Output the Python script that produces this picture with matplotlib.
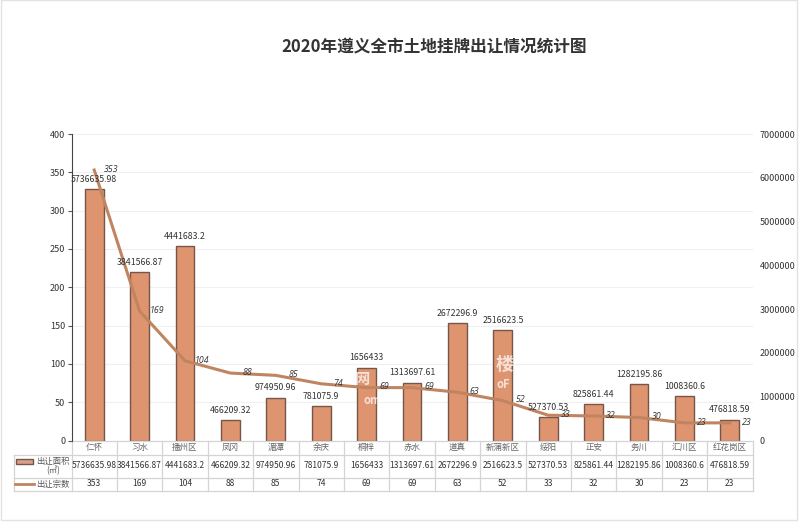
import matplotlib
matplotlib.use("Agg")
import matplotlib.pyplot as plt
from matplotlib.patches import Rectangle
from matplotlib.lines import Line2D

plt.rcParams['font.family'] = ['Noto Sans CJK SC', 'DejaVu Sans']

title = "2020年遵义全市土地挂牌出让情况统计图"
categories = ["仁怀", "习水", "播州区", "凤冈", "湄潭", "余庆", "桐梓", "赤水", "道真",
              "新蒲新区", "绥阳", "正安", "务川", "汇川区", "红花岗区"]
area_labels = ["5736635.98", "3841566.87", "4441683.2", "466209.32", "974950.96", "781075.9",
               "1656433", "1313697.61", "2672296.9", "2516623.5", "527370.53", "825861.44",
               "1282195.86", "1008360.6", "476818.59"]
area = [float(v) for v in area_labels]
deals = [353, 169, 104, 88, 85, 74, 69, 69, 63, 52, 33, 32, 30, 23, 23]
area_name = "出让面积\n(㎡)"
deals_name = "出让宗数"
left_ticks = [0, 50, 100, 150, 200, 250, 300, 350, 400]
right_ticks = [0, 1000000, 2000000, 3000000, 4000000, 5000000, 6000000, 7000000]
watermarks = [("楼", 505, 364, 13), ("oF", 503, 385, 8), ("网", 362, 379, 11), ("om", 372, 400, 8)]

W, H = 800, 527
BAR = "#df9470"
EDGE = "#75564a"
LINE = "#c08560"
TXT = "#333333"

fig = plt.figure(figsize=(W / 100, H / 100), dpi=100, facecolor="white")
fig.add_artist(Rectangle((1 / W, 1 - 520 / H), 796 / W, 520 / H, transform=fig.transFigure,
                         fill=False, ec="#e2e2e2", lw=1))

x0, x1, y_top, y_bot = 71.5, 752.5, 134, 440.5
ax = fig.add_axes([x0 / W, 1 - y_bot / H, (x1 - x0) / W, (y_bot - y_top) / H])
ax2 = ax.twinx()
n = len(categories)
xs = list(range(n))

# Bars belong to the right axis, the line to the left axis
ax.set_zorder(2)
ax.patch.set_visible(False)
ax2.set_zorder(1)
ax2.bar(xs, area, width=0.41, color=BAR, edgecolor=EDGE, linewidth=1, zorder=3)
ax.plot(xs, deals, color=LINE, lw=2.2, solid_joinstyle="round")

ax.set_xlim(-0.5, n - 0.5)
ax.set_ylim(0, 400)
ax2.set_ylim(0, 7000000)
ax.set_yticks(left_ticks)
ax2.set_yticks(right_ticks)
ax2.ticklabel_format(axis="y", style="plain", useOffset=False)
ax.set_xticks([])
ax2.set_xticks([])
# Gridlines sit behind the bars
ax2.set_axisbelow(True)
for t in left_ticks[1:]:
    ax2.axhline(t * 7000000 / 400, color="#f0f0f0", lw=0.8, zorder=0)
ax.tick_params(axis="y", labelsize=6.5, labelcolor=TXT, color="#555555", length=3, pad=1.5, width=0.8)
ax2.tick_params(axis="y", labelsize=6.5, labelcolor=TXT, length=0, pad=5)
for s in ("top", "bottom", "right"):
    ax.spines[s].set_visible(False)
for s in ("top", "bottom", "right", "left"):
    ax2.spines[s].set_visible(False)
ax.spines["left"].set_color("#444444")

for x, v, s in zip(xs, area, area_labels):
    ax.annotate(s, (x, v * 400 / 7000000), xytext=(0, 7.2), textcoords="offset points", ha="center",
                va="center", fontsize=6.3, color=TXT, zorder=6)
for x, d in zip(xs, deals):
    ax.annotate(str(d), (x, d), xytext=(12.5, 0.5), textcoords="offset points", ha="center", va="center",
                fontsize=6.3, style="italic", family="Open Sans", color=TXT, zorder=6)

# Data table below the axes
table_rows = [categories, area_labels, [str(d) for d in deals]]
row_edges = [440.5, 454.5, 477.5, 490.5]
tx0 = 13.5
grid_c = "#d4d4d4"
def fx(px): return px / W
def fy(py): return 1 - py / H
fig.add_artist(Line2D([fx(x0), fx(x1)], [fy(row_edges[0]), fy(row_edges[0])], color=grid_c, lw=0.9))
for e in row_edges[1:]:
    fig.add_artist(Line2D([fx(tx0), fx(x1)], [fy(e), fy(e)], color=grid_c, lw=0.9))
fig.add_artist(Line2D([fx(tx0), fx(tx0)], [fy(row_edges[1]), fy(row_edges[3])], color=grid_c, lw=0.9))
step = (x1 - x0) / n
for i in range(n + 1):
    xp = x0 + i * step
    fig.add_artist(Line2D([fx(xp), fx(xp)], [fy(row_edges[0]), fy(row_edges[3])], color=grid_c, lw=0.9))
for r, row in enumerate(table_rows):
    yc = (row_edges[r] + row_edges[r + 1]) / 2
    col = "#666666" if r == 0 else TXT
    for i, s in enumerate(row):
        fig.text(fx(x0 + (i + 0.5) * step), fy(yc), s, ha="center", va="center", fontsize=6.1, color=col)

# Table legend cells
fig.add_artist(Rectangle((fx(15.5), fy(463.5)), 17 / W, 5 / H, transform=fig.transFigure,
                         fc="#d99f88", ec=EDGE, lw=1))
fig.text(fx(53), fy(466), area_name, ha="center", va="center", fontsize=6, color="#555555", linespacing=1.05)
fig.add_artist(Line2D([fx(15), fx(34)], [fy(484), fy(484)], color=LINE, lw=2))
fig.text(fx(53), fy(484), deals_name, ha="center", va="center", fontsize=6, color="#555555")

fig.text(fx(434.5), fy(47), title, ha="center", va="center", fontsize=12, fontweight="bold", color="#333333")

# Faint white site watermark across the plot
for s, px, py, size in watermarks:
    fig.text(fx(px), fy(py), s, ha="center", va="center", fontsize=size, color="white",
             alpha=0.72, fontweight="bold", zorder=20)

fig.savefig("out.png", dpi=100)
